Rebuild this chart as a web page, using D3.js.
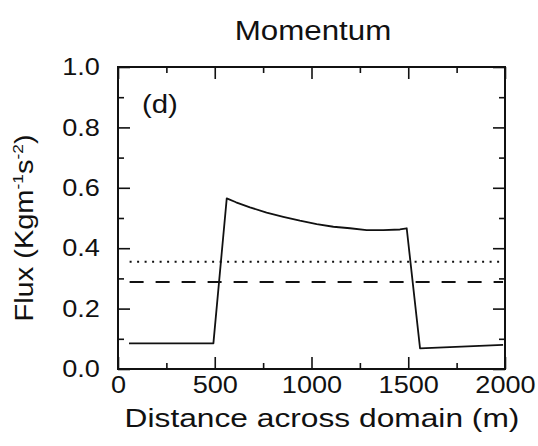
<!DOCTYPE html>
<html><head><meta charset="utf-8">
<script src="https://cdn.jsdelivr.net/npm/d3@7"></script>
<style>
body{margin:0;background:#fff;}
svg{display:block;}
text{font-family:"Liberation Sans",Arial,sans-serif;fill:#111;}
</style></head>
<body><svg id="c" width="538" height="446"></svg>
<script>
// Data
const solidX = [57, 493, 562, 610, 682, 768, 854, 940, 1027, 1113, 1199, 1285, 1371, 1457, 1492, 1561, 1990];
const solidY = [0.085, 0.085, 0.565, 0.552, 0.535, 0.518, 0.504, 0.491, 0.480, 0.471, 0.466, 0.460, 0.460, 0.462, 0.466, 0.068, 0.080];
const dottedX = [60, 1990];
const dottedY = [0.355, 0.355];
const dashedX = [60, 1990];
const dashedY = [0.288, 0.288];
const xMajor = [0, 500, 1000, 1500, 2000];
const xMinor = [250, 750, 1250, 1750];
const yMajor = [0, 0.2, 0.4, 0.6, 0.8, 1.0];
const yMinor = [0.1, 0.3, 0.5, 0.7, 0.9];

const svg = d3.select("#c");
const L = 118, R = 505, T = 67, B = 369;
const x = d3.scaleLinear().domain([0, 2000]).range([L, R]);
const y = d3.scaleLinear().domain([0, 1]).range([B, T]);
const SX = 1.13;

function styleAxis(g){
  g.select(".domain").remove();
  g.selectAll(".tick line").attr("stroke","#111").attr("stroke-width",1.6);
}
// bottom
const gb = svg.append("g").attr("transform",`translate(0,${B})`)
  .call(d3.axisBottom(x).tickValues(xMajor).tickSizeInner(-12).tickSizeOuter(0).tickPadding(7).tickFormat(d3.format("d")));
styleAxis(gb);
gb.selectAll("text").attr("font-size",24).attr("fill","#111").attr("transform",`scale(${SX},1)`);
svg.append("g").attr("transform",`translate(0,${B})`)
  .call(d3.axisBottom(x).tickValues(xMinor).tickSizeInner(-6).tickSizeOuter(0).tickFormat("")).call(styleAxis);
// top
svg.append("g").attr("transform",`translate(0,${T})`)
  .call(d3.axisTop(x).tickValues(xMajor).tickSizeInner(-12).tickSizeOuter(0).tickFormat("")).call(styleAxis);
svg.append("g").attr("transform",`translate(0,${T})`)
  .call(d3.axisTop(x).tickValues(xMinor).tickSizeInner(-6).tickSizeOuter(0).tickFormat("")).call(styleAxis);
// left
const gl = svg.append("g").attr("transform",`translate(${L},0)`)
  .call(d3.axisLeft(y).tickValues(yMajor).tickSizeInner(-12).tickSizeOuter(0).tickPadding(16).tickFormat(d3.format(".1f")));
styleAxis(gl);
gl.selectAll("text").attr("font-size",24).attr("fill","#111").attr("transform",`scale(${SX},1)`);
svg.append("g").attr("transform",`translate(${L},0)`)
  .call(d3.axisLeft(y).tickValues(yMinor).tickSizeInner(-6).tickSizeOuter(0).tickFormat("")).call(styleAxis);
// right
svg.append("g").attr("transform",`translate(${R},0)`)
  .call(d3.axisRight(y).tickValues(yMajor).tickSizeInner(-12).tickSizeOuter(0).tickFormat("")).call(styleAxis);
svg.append("g").attr("transform",`translate(${R},0)`)
  .call(d3.axisRight(y).tickValues(yMinor).tickSizeInner(-6).tickSizeOuter(0).tickFormat("")).call(styleAxis);

// frame
svg.append("rect").attr("x",L).attr("y",T).attr("width",R-L).attr("height",B-T)
  .attr("fill","none").attr("stroke","#111").attr("stroke-width",2);

const line = d3.line().x(d=>x(d[0])).y(d=>y(d[1]));
svg.append("path").datum(solidX.map((v,i)=>[v,solidY[i]])).attr("d",line)
  .attr("fill","none").attr("stroke","#111").attr("stroke-width",1.8).attr("stroke-linejoin","round");
svg.append("path").datum(dottedX.map((v,i)=>[v,dottedY[i]])).attr("d",line)
  .attr("fill","none").attr("stroke","#111").attr("stroke-width",2).attr("stroke-dasharray","2,5.5");
svg.append("path").datum(dashedX.map((v,i)=>[v,dashedY[i]])).attr("d",line)
  .attr("fill","none").attr("stroke","#111").attr("stroke-width",1.8).attr("stroke-dasharray","14,12");

// texts
svg.append("text").attr("transform","translate(313,40) scale(1.16,1)").attr("text-anchor","middle")
  .attr("font-size",27).text("Momentum");
svg.append("text").attr("transform","translate(142,113) scale(1.13,1)").attr("font-size",26).text("(d)");
svg.append("text").attr("transform","translate(322,427) scale(1.22,1)").attr("text-anchor","middle")
  .attr("font-size",26).text("Distance across domain (m)");
const yl = svg.append("text").attr("transform","translate(33,228) rotate(-90) scale(1.16,1)")
  .attr("text-anchor","middle").attr("font-size",25);
yl.append("tspan").text("Flux (Kgm");
yl.append("tspan").attr("font-size",15).attr("dy",-10).text("-1");
yl.append("tspan").attr("dy",10).text("s");
yl.append("tspan").attr("font-size",15).attr("dy",-10).text("-2");
yl.append("tspan").attr("dy",10).text(")");
</script></body></html>
